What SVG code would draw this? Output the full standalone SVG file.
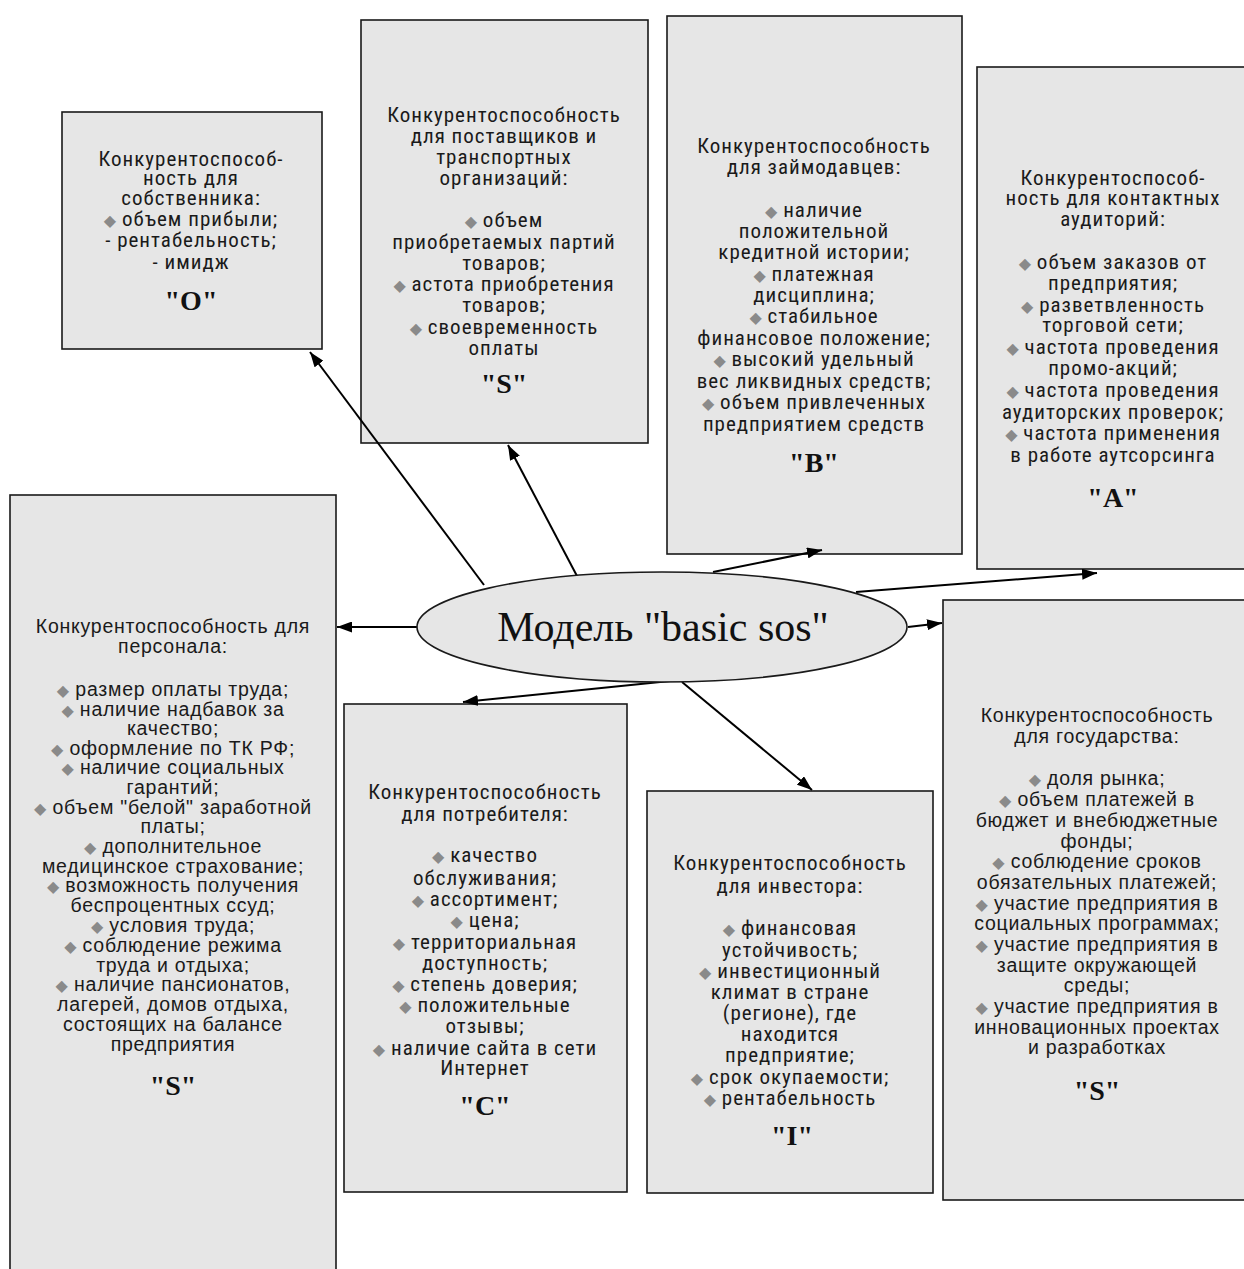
<svg xmlns="http://www.w3.org/2000/svg" width="1244" height="1269" viewBox="0 0 1244 1269">
<style>
.box{fill:#e6e6e6;stroke:#1a1a1a;stroke-width:1.6}
.t{font-family:"Liberation Sans Narrow","Arial Narrow","Roboto Condensed","DejaVu Sans Condensed",sans-serif;font-size:21px;letter-spacing:1px;fill:#1a1a1a;text-anchor:middle}
.w{font-family:"Liberation Sans",Arial,sans-serif;font-size:19.5px;letter-spacing:0.75px;fill:#1a1a1a;text-anchor:middle}
.b{font-family:"DejaVu Sans",sans-serif;font-size:16px;fill:#8a8a8a;letter-spacing:0}
.lbl{font-family:"Liberation Serif","Times New Roman",serif;font-weight:bold;font-size:28px;fill:#111;text-anchor:middle}
.conn line{stroke:#000;stroke-width:2;marker-end:url(#ah)}
</style>
<defs>
<marker id="ah" markerUnits="userSpaceOnUse" viewBox="0 0 15 11" refX="15" refY="5.5" markerWidth="15" markerHeight="11" orient="auto">
<path d="M0,0 L15,5.5 L0,11 z" fill="#000"/>
</marker>
</defs>
<rect width="1244" height="1269" fill="#fff"/>

<g id="node-owner">
<rect class="box" x="62" y="112" width="260" height="237"/>
<text class="t" x="191" y="166">Конкурентоспособ-</text>
<text class="t" x="191" y="185">ность для</text>
<text class="t" x="191" y="205">собственника:</text>
<text class="t" x="191" y="226"><tspan class="b">◆</tspan>  объем прибыли;</text>
<text class="t" x="191" y="247">- рентабельность;</text>
<text class="t" x="191" y="269">- имидж</text>
<text class="lbl" x="191" y="310">"O"</text>
</g>

<g id="node-suppliers">
<rect class="box" x="361" y="20" width="287" height="423"/>
<text class="t" x="504" y="122">Конкурентоспособность</text>
<text class="t" x="504" y="143">для поставщиков и</text>
<text class="t" x="504" y="164">транспортных</text>
<text class="t" x="504" y="185">организаций:</text>
<text class="t" x="504" y="227"><tspan class="b">◆</tspan>  объем</text>
<text class="t" x="504" y="249">приобретаемых партий</text>
<text class="t" x="504" y="270">товаров;</text>
<text class="t" x="504" y="291"><tspan class="b">◆</tspan>  астота приобретения</text>
<text class="t" x="504" y="312">товаров;</text>
<text class="t" x="504" y="334"><tspan class="b">◆</tspan>  своевременность</text>
<text class="t" x="504" y="355">оплаты</text>
<text class="lbl" x="504" y="393">"S"</text>
</g>

<g id="node-lenders">
<rect class="box" x="667" y="16" width="295" height="538"/>
<text class="t" x="814" y="153">Конкурентоспособность</text>
<text class="t" x="814" y="174">для займодавцев:</text>
<text class="t" x="814" y="217"><tspan class="b">◆</tspan>  наличие</text>
<text class="t" x="814" y="238">положительной</text>
<text class="t" x="814" y="259">кредитной истории;</text>
<text class="t" x="814" y="281"><tspan class="b">◆</tspan>  платежная</text>
<text class="t" x="814" y="302">дисциплина;</text>
<text class="t" x="814" y="323"><tspan class="b">◆</tspan>  стабильное</text>
<text class="t" x="814" y="345">финансовое положение;</text>
<text class="t" x="814" y="366"><tspan class="b">◆</tspan>  высокий удельный</text>
<text class="t" x="814" y="388">вес ликвидных средств;</text>
<text class="t" x="814" y="409"><tspan class="b">◆</tspan>  объем привлеченных</text>
<text class="t" x="814" y="431">предприятием средств</text>
<text class="lbl" x="814" y="472">"B"</text>
</g>

<g id="node-audiences">
<rect class="box" x="977" y="67" width="272" height="502"/>
<text class="t" x="1113" y="185">Конкурентоспособ-</text>
<text class="t" x="1113" y="205">ность для контактных</text>
<text class="t" x="1113" y="226">аудиторий:</text>
<text class="t" x="1113" y="269"><tspan class="b">◆</tspan>  объем заказов от</text>
<text class="t" x="1113" y="290">предприятия;</text>
<text class="t" x="1113" y="312"><tspan class="b">◆</tspan>  разветвленность</text>
<text class="t" x="1113" y="332">торговой сети;</text>
<text class="t" x="1113" y="354"><tspan class="b">◆</tspan>  частота проведения</text>
<text class="t" x="1113" y="375">промо-акций;</text>
<text class="t" x="1113" y="397"><tspan class="b">◆</tspan>  частота проведения</text>
<text class="t" x="1113" y="419">аудиторских проверок;</text>
<text class="t" x="1113" y="440"><tspan class="b">◆</tspan>  частота применения</text>
<text class="t" x="1113" y="462">в работе аутсорсинга</text>
<text class="lbl" x="1113" y="507">"A"</text>
</g>

<g id="node-staff">
<rect class="box" x="10" y="495" width="326" height="790"/>
<text class="w" x="173" y="633">Конкурентоспособность для</text>
<text class="w" x="173" y="653">персонала:</text>
<text class="w" x="173" y="696"><tspan class="b">◆</tspan>  размер оплаты труда;</text>
<text class="w" x="173" y="716"><tspan class="b">◆</tspan>  наличие надбавок за</text>
<text class="w" x="173" y="735">качество;</text>
<text class="w" x="173" y="755"><tspan class="b">◆</tspan>  оформление по ТК РФ;</text>
<text class="w" x="173" y="774"><tspan class="b">◆</tspan>  наличие социальных</text>
<text class="w" x="173" y="794">гарантий;</text>
<text class="w" x="173" y="814"><tspan class="b">◆</tspan>  объем "белой" заработной</text>
<text class="w" x="173" y="833">платы;</text>
<text class="w" x="173" y="853"><tspan class="b">◆</tspan>  дополнительное</text>
<text class="w" x="173" y="873">медицинское страхование;</text>
<text class="w" x="173" y="892"><tspan class="b">◆</tspan>  возможность получения</text>
<text class="w" x="173" y="912">беспроцентных ссуд;</text>
<text class="w" x="173" y="932"><tspan class="b">◆</tspan>  условия труда;</text>
<text class="w" x="173" y="952"><tspan class="b">◆</tspan>  соблюдение режима</text>
<text class="w" x="173" y="972">труда и отдыха;</text>
<text class="w" x="173" y="991"><tspan class="b">◆</tspan>  наличие пансионатов,</text>
<text class="w" x="173" y="1011">лагерей, домов отдыха,</text>
<text class="w" x="173" y="1031">состоящих на балансе</text>
<text class="w" x="173" y="1051">предприятия</text>
<text class="lbl" x="173" y="1095">"S"</text>
</g>

<g id="node-consumer">
<rect class="box" x="344" y="704" width="283" height="488"/>
<text class="t" x="485" y="799">Конкурентоспособность</text>
<text class="t" x="485" y="821">для потребителя:</text>
<text class="t" x="485" y="862"><tspan class="b">◆</tspan>  качество</text>
<text class="t" x="485" y="885">обслуживания;</text>
<text class="t" x="485" y="906"><tspan class="b">◆</tspan>  ассортимент;</text>
<text class="t" x="485" y="927"><tspan class="b">◆</tspan>  цена;</text>
<text class="t" x="485" y="949"><tspan class="b">◆</tspan>  территориальная</text>
<text class="t" x="485" y="970">доступность;</text>
<text class="t" x="485" y="991"><tspan class="b">◆</tspan>  степень доверия;</text>
<text class="t" x="485" y="1012"><tspan class="b">◆</tspan>  положительные</text>
<text class="t" x="485" y="1033">отзывы;</text>
<text class="t" x="485" y="1055"><tspan class="b">◆</tspan>  наличие сайта в сети</text>
<text class="t" x="485" y="1075">Интернет</text>
<text class="lbl" x="485" y="1115">"C"</text>
</g>

<g id="node-investor">
<rect class="box" x="647" y="791" width="286" height="402"/>
<text class="t" x="790" y="870">Конкурентоспособность</text>
<text class="t" x="790" y="893">для инвестора:</text>
<text class="t" x="790" y="935"><tspan class="b">◆</tspan>  финансовая</text>
<text class="t" x="790" y="957">устойчивость;</text>
<text class="t" x="790" y="978"><tspan class="b">◆</tspan>  инвестиционный</text>
<text class="t" x="790" y="999">климат в стране</text>
<text class="t" x="790" y="1020">(регионе), где</text>
<text class="t" x="790" y="1041">находится</text>
<text class="t" x="790" y="1062">предприятие;</text>
<text class="t" x="790" y="1084"><tspan class="b">◆</tspan>  срок окупаемости;</text>
<text class="t" x="790" y="1105"><tspan class="b">◆</tspan>  рентабельность</text>
<text class="lbl" x="792" y="1145">"I"</text>
</g>

<g id="node-state">
<rect class="box" x="943" y="600" width="307" height="600"/>
<text class="w" x="1097" y="722">Конкурентоспособность</text>
<text class="w" x="1097" y="743">для государства:</text>
<text class="w" x="1097" y="785"><tspan class="b">◆</tspan>  доля рынка;</text>
<text class="w" x="1097" y="806"><tspan class="b">◆</tspan>  объем платежей в</text>
<text class="w" x="1097" y="827">бюджет и внебюджетные</text>
<text class="w" x="1097" y="848">фонды;</text>
<text class="w" x="1097" y="868"><tspan class="b">◆</tspan>  соблюдение сроков</text>
<text class="w" x="1097" y="889">обязательных платежей;</text>
<text class="w" x="1097" y="910"><tspan class="b">◆</tspan>  участие предприятия в</text>
<text class="w" x="1097" y="930">социальных программах;</text>
<text class="w" x="1097" y="951"><tspan class="b">◆</tspan>  участие предприятия в</text>
<text class="w" x="1097" y="972">защите окружающей</text>
<text class="w" x="1097" y="992">среды;</text>
<text class="w" x="1097" y="1013"><tspan class="b">◆</tspan>  участие предприятия в</text>
<text class="w" x="1097" y="1034">инновационных проектах</text>
<text class="w" x="1097" y="1054">и разработках</text>
<text class="lbl" x="1097" y="1100">"S"</text>
</g>

<g id="connectors" class="conn">
<line x1="484" y1="585" x2="310" y2="352"/>
<line x1="577" y1="576" x2="508" y2="445"/>
<line x1="713" y1="572" x2="822" y2="550"/>
<line x1="856" y1="592" x2="1097" y2="573"/>
<line x1="417" y1="627" x2="337" y2="627"/>
<line x1="908" y1="627" x2="942" y2="623"/>
<line x1="680" y1="680" x2="463" y2="702"/>
<line x1="682" y1="682" x2="812" y2="790"/>
</g>

<g id="node-center">
<ellipse cx="662" cy="627" rx="245" ry="55" fill="#e6e6e6" stroke="#1a1a1a" stroke-width="1.6"/>
<text x="663" y="641" font-family="Liberation Serif,'Times New Roman',serif" font-size="42" fill="#111" text-anchor="middle">Модель "basic sos"</text>
</g>
</svg>
